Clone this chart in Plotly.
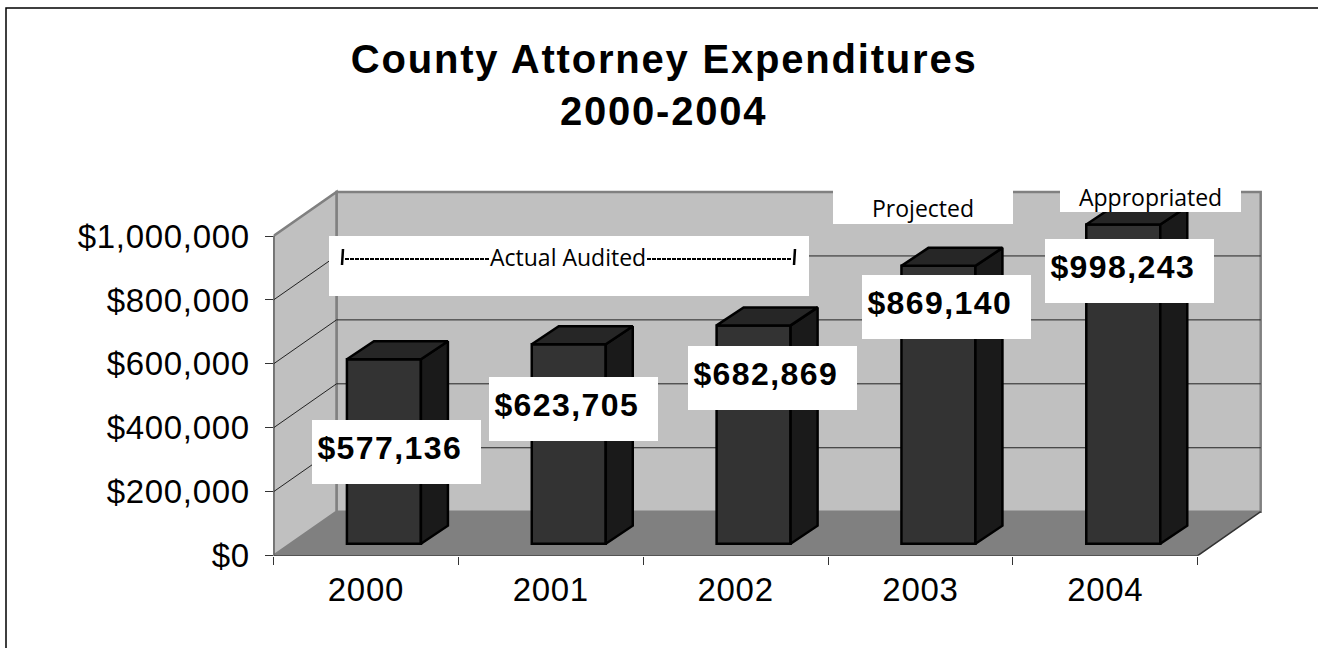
import plotly.graph_objects as go

# ---- data ----
years = ["2000", "2001", "2002", "2003", "2004"]
expenditures = [577136, 623705, 682869, 869140, 998243]
y_ticks = [0, 200000, 400000, 600000, 800000, 1000000]
title_lines = ["County Attorney Expenditures", "2000-2004"]

W, H = 1318, 648
X0, X_CAT_END, X_BACK, X_PLOT_END = 273.5, 1197.7, 1260.7, 1264.0
Y0, Y_1M, Y_BACK_DROP, Y_PLOT_TOP = 555.7, 236.0, 44.0, 189.0
PX_CAT = (X_CAT_END - X0) / 5
PX_VAL = (Y0 - Y_1M) / 1e6
DX = (X_BACK - X_CAT_END) / PX_CAT
DY = Y_BACK_DROP / PX_VAL
BAR_OFF = 18.0 / PX_CAT
BAR_W = 74.0 / PX_CAT
BAR_BASE = 12.0 / PX_VAL
BAR_DX = 27.0 / PX_CAT
BAR_DY = 18.0 / PX_VAL

px = lambda v: v / W
py = lambda v: 1 - v / H
xmax = -0.5 + (X_PLOT_END - X0) / PX_CAT
ymax = (Y0 - Y_PLOT_TOP) / PX_VAL
xl, xr = -0.5, 4.5
top = y_ticks[-1]

def poly(points):
    return "M" + " L".join(f"{x},{y}" for x, y in points) + " Z"

shapes = []
def data_shape(points, fill, line, lw):
    shapes.append(dict(type="path", xref="x", yref="y", layer="below", path=poly(points),
                       fillcolor=fill, line=dict(color=line, width=lw)))

data_shape([(xl + DX, DY), (xr + DX, DY), (xr + DX, top + DY), (xl + DX, top + DY)], "#c0c0c0", "#808080", 2.5)
data_shape([(xl, 0), (xl + DX, DY), (xl + DX, top + DY), (xl, top)], "#c0c0c0", "#808080", 2.5)
data_shape([(xl, 0), (xr, 0), (xr + DX, DY), (xl + DX, DY)], "#808080", "#808080", 0)
for v in y_ticks[1:-1]:
    shapes.append(dict(type="path", xref="x", yref="y", layer="below",
                       path=f"M{xl},{v} L{xl + DX},{v + DY} L{xr + DX},{v + DY}",
                       line=dict(color="#222222", width=1)))

fig = go.Figure()
xs = [i + BAR_OFF for i in range(len(years))]
fig.add_trace(go.Bar(x=xs, y=expenditures, base=[BAR_BASE] * len(years), width=BAR_W,
                     marker=dict(color="#333333", line=dict(color="#000000", width=2.5)),
                     hoverinfo="skip"))

side_x, side_y, top_x, top_y = [], [], [], []
for xc, v in zip(xs, expenditures):
    a, b = xc - BAR_W / 2, xc + BAR_W / 2
    y1 = BAR_BASE + v
    side_x += [b, b + BAR_DX, b + BAR_DX, b, b, None]
    side_y += [BAR_BASE, BAR_BASE + BAR_DY, y1 + BAR_DY, y1, BAR_BASE, None]
    top_x += [a, a + BAR_DX, b + BAR_DX, b, a, None]
    top_y += [y1, y1 + BAR_DY, y1 + BAR_DY, y1, y1, None]
for fx, fy, col in [(side_x, side_y, "#1a1a1a"), (top_x, top_y, "#262626")]:
    fig.add_trace(go.Scatter(x=fx, y=fy, mode="lines", fill="toself", fillcolor=col,
                             line=dict(color="#000000", width=2.5), hoverinfo="skip"))

fig.add_trace(go.Scatter(x=[xl, xl, xr, xr + DX], y=[top, 0, 0, DY], mode="lines", cliponaxis=False,
                         line=dict(color="#333333", width=1.5), hoverinfo="skip"))

label_boxes = [(312, 420, 481, 484), (489, 377, 658, 441), (688, 346, 857, 410),
               (862, 275, 1031, 339), (1045, 239, 1214, 303)]
note_boxes = [(329, 236, 809, 296), (833, 186, 1013, 224), (1060, 186, 1241, 212)]
for b in label_boxes + note_boxes:
    shapes.append(dict(type="rect", xref="paper", yref="paper", layer="above",
                       x0=px(b[0]), x1=px(b[2]), y0=py(b[3]), y1=py(b[1]),
                       fillcolor="#ffffff", line=dict(width=0)))
shapes.append(dict(type="rect", xref="paper", yref="paper", layer="below", x0=px(6), x1=px(W + 10),
                   y0=py(H + 10), y1=py(8), line=dict(color="#000000", width=1.5)))

def seg(x0, y0, x1, y1, w, dash="solid"):
    shapes.append(dict(type="line", xref="paper", yref="paper", layer="above", x0=px(x0), x1=px(x1),
                       y0=py(y0), y1=py(y1), line=dict(color="#000000", width=w, dash=dash)))
seg(345, 259, 490, 259, 2, "4px,1px")
seg(647, 259, 792, 259, 2, "4px,1px")
seg(343, 249, 342, 265, 2.5)
seg(795, 249, 794, 265, 2.5)

ann = []
for v, b in zip(expenditures, label_boxes):
    ann.append(dict(xref="paper", yref="paper", x=px(b[0] + 9), y=py((b[1] + b[3]) / 2 - 4),
                    xanchor="left", yanchor="middle", showarrow=False, text=f"${v:,}",
                    font=dict(family="Liberation Sans", size=32, color="#000000", weight="bold")))
for t, x, y in [("Actual Audited", 568, 257), ("Projected", 923, 208), ("Appropriated", 1150, 197)]:
    ann.append(dict(xref="paper", yref="paper", x=px(x), y=py(y), xanchor="center", yanchor="middle",
                    showarrow=False, text=t, font=dict(family="Open Sans", size=23, color="#000000")))
for t, y in zip(title_lines, [58.5, 111.5]):
    ann.append(dict(xref="paper", yref="paper", x=px(664), y=py(y), xanchor="center", yanchor="middle",
                    showarrow=False, text=t,
                    font=dict(family="Liberation Sans", size=40, color="#000000", weight="bold")))

fig.update_layout(
    width=W, height=H, margin=dict(l=0, r=0, t=0, b=0, pad=0), autosize=False,
    paper_bgcolor="#ffffff", plot_bgcolor="rgba(0,0,0,0)", showlegend=False, hovermode=False,
    barmode="overlay", shapes=shapes, annotations=ann,
    font=dict(family="Liberation Sans", color="#000000"),
    xaxis=dict(domain=[px(X0), px(X_PLOT_END)], range=[xl, xmax], showgrid=False, zeroline=False,
               showline=False, tickmode="array", tickvals=list(range(5)), ticktext=years, automargin=False,
               ticks="outside", ticklen=0, ticklabelstandoff=5, tickfont=dict(size=33),
               minor=dict(tickmode="array", tickvals=[i - 0.5 for i in range(6)], ticks="outside",
                          ticklen=8, tickcolor="#333333", tickwidth=1, showgrid=False)),
    yaxis=dict(domain=[py(Y0), py(Y_PLOT_TOP)], range=[0, ymax], showgrid=False, zeroline=False,
               showline=False, tickmode="array", tickvals=y_ticks, ticktext=[f"${v:,}" for v in y_ticks],
               automargin=False, ticks="outside", ticklen=8, tickcolor="#333333", tickwidth=1,
               ticklabelstandoff=8, tickfont=dict(size=33)),
)
post = """
document.body.style.margin='0';document.body.style.overflow='hidden';
var st=document.createElement('style');
st.textContent='.xtick text,.ytick text{letter-spacing:0.7px}'
 +' .annotation[data-index="0"] text,.annotation[data-index="1"] text,.annotation[data-index="2"] text,'
 +'.annotation[data-index="3"] text,.annotation[data-index="4"] text{letter-spacing:1.4px}'
 +' .annotation[data-index="8"] text,.annotation[data-index="9"] text{letter-spacing:1.8px}';
document.head.appendChild(st);
"""
fig.write_html("out.html", post_script=post, config={"displayModeBar": False})
